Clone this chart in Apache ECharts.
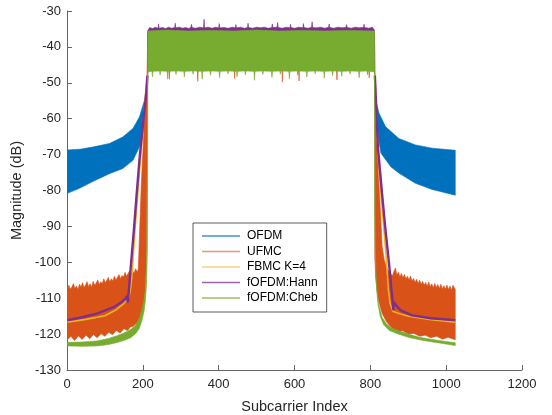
<!DOCTYPE html>
<html>
<head>
<meta charset="utf-8">
<script src="https://cdn.jsdelivr.net/npm/echarts@6/dist/echarts.min.js"></script>
<style>html,body{margin:0;padding:0;background:#fff}#c{width:552px;height:415px}</style>
</head>
<body>
<div id="c"></div>
<script>
// ---- data (x = subcarrier index, y = dB) ----
var seriesNames = ['OFDM', 'UFMC', 'FBMC K=4', 'fOFDM:Hann', 'fOFDM:Cheb'];
var xTicks = [0, 200, 400, 600, 800, 1000, 1200];
var yTicks = [-130, -120, -110, -100, -90, -80, -70, -60, -50, -40, -30];

// OFDM envelope (upper / lower) of the dense oscillation
var ofdmUpper = [[1,-68.7],[34,-68.5],[68,-67.9],[112,-66.9],[147,-65.1],[174,-62.7],[191,-59.5],[204,-55.0],[209,-52.2],[212,-48.5],[213,-36.0],
  [811,-36.0],[812,-48.5],[814,-54.8],[823,-58.5],[840,-62.2],[875,-65.5],[919,-67.3],[963,-68.2],[1024,-68.8]];
var ofdmLower = [[1,-80.8],[33,-79.4],[68,-77.5],[112,-75.3],[147,-73.9],[174,-71.6],[191,-67.9],[204,-62.3],[209,-56.5],[212,-50.0],[213,-46.5],
  [811,-46.5],[812,-52.0],[816,-59.0],[823,-66.5],[828,-69.6],[854,-73.4],[876,-75.2],[919,-78.0],[963,-79.7],[1024,-81.3]];

// UFMC envelope
var ufmcUpper = [[1,-107.8],[5,-106.4],[9,-107.5],[13,-106.9],[17,-105.9],[21,-107.3],[25,-106.6],[29,-107.6],[33,-106.1],[37,-106.9],
  [41,-105.7],[45,-107.0],[49,-106.3],[53,-105.4],[57,-106.8],[61,-106.0],[65,-106.9],[69,-105.3],[73,-106.4],[77,-105.8],[81,-104.9],
  [85,-106.2],[89,-105.4],[93,-106.0],[97,-104.6],[101,-105.7],[105,-105.0],[109,-104.2],[113,-105.5],[117,-104.6],[121,-105.2],
  [125,-103.9],[129,-104.9],[133,-104.2],[137,-103.4],[141,-104.6],[145,-103.7],[149,-104.1],[153,-102.8],[157,-103.9],[161,-103.1],
  [165,-102.4],[169,-103.5],[173,-102.6],[177,-103.0],[181,-101.8],[185,-102.7],[188,-101.9],
  [191,-93.0],[196,-78.0],[203,-63.0],[208,-53.0],[211,-48.5],[213,-36.2],
  [811,-36.2],[812,-48.5],[816,-64.0],[822,-77.0],[827,-86.5],[831,-95.5],[837,-99.5],[844,-102.0],[852,-102.8],[858,-103.8],
  [862,-102.6],[866,-101.6],[870,-103.5],[874,-102.8],[878,-104.0],[882,-103.1],[886,-104.3],[890,-103.4],[894,-104.6],[898,-103.9],
  [902,-104.9],[906,-103.8],[910,-105.2],[914,-104.5],[918,-105.6],[922,-104.7],[926,-105.9],[930,-105.0],[934,-106.1],[938,-105.3],
  [942,-106.4],[946,-105.6],[950,-106.7],[954,-105.5],[958,-106.8],[962,-106.0],[966,-107.1],[970,-105.9],[974,-107.0],[978,-106.2],
  [982,-107.3],[986,-106.1],[990,-107.4],[994,-106.5],[998,-107.5],[1002,-106.3],[1006,-107.6],[1010,-106.6],[1014,-107.7],[1018,-106.4],
  [1024,-107.5]];
var ufmcLower = [[1,-121.6],[10,-120.6],[20,-121.8],[30,-120.5],[40,-121.5],[50,-120.3],[60,-121.3],[70,-120.1],[79,-121.0],[90,-119.9],
  [100,-120.6],[110,-119.5],[120,-120.2],[130,-119.0],[140,-119.7],[150,-118.5],[160,-119.0],[167,-118.0],[175,-117.8],[185,-116.8],
  [192,-116.0],[197,-114.8],[202,-112.5],[206,-108.0],[208.5,-102.0],[210,-95.0],[211,-75.0],[212,-55.0],[213,-46.6],
  [269,-46.6],[270,-49.0],[271,-46.6],[344,-46.6],[345,-49.6],[346,-46.6],[441,-46.6],[442,-48.8],[443,-46.6],
  [567,-46.6],[568,-49.8],[569,-46.6],[611,-46.6],[612,-49.5],[613,-46.6],[711,-46.6],[712,-49.2],[713,-46.6],
  [796,-46.6],[797,-48.6],[798,-46.6],[811,-46.6],
  [811.5,-60.0],[812,-99.0],[814,-104.0],[817.6,-107.7],[822,-110.8],[831,-114.2],[842,-116.5],[853,-117.9],[862,-118.8],[871,-119.3],
  [885,-119.1],[900,-120.0],[915,-119.8],[930,-120.6],[945,-120.3],[959,-121.0],[975,-120.6],[990,-121.4],[1005,-120.9],[1024,-121.6]];

// FBMC K=4 line (left and right of the passband)
var fbmcLeft = [[1,-116.7],[50,-115.9],[100,-114.9],[130,-113.2],[150,-111.5],[160,-110.3],[164,-109.5],[168,-107.0],[172,-103.0],
  [176,-96.0],[180,-90.0],[189.5,-77.0],[200,-63.0],[207,-53.0],[212,-48.0]];
var fbmcRight = [[812,-48.0],[818,-65.0],[825,-77.0],[836,-91.0],[843,-100.0],[847,-107.0],[852,-111.5],[860,-113.7],[880,-114.4],
  [900,-115.0],[960,-116.0],[1024,-116.7]];

// fOFDM:Hann line and passband envelope
var hannLeft = [[1,-116.1],[40,-115.3],[79,-114.3],[123,-112.5],[145,-111.0],[154,-110.1],[158,-109.4],[160.5,-111.2],[162.5,-108.6],
  [166,-104.0],[170,-99.0],[176,-91.5],[183,-82.0],[191,-71.5],[200,-62.0],[209,-52.9],[212,-48.0]];
var hannRight = [[812,-48.0],[820,-68.0],[831,-81.0],[840,-91.0],[849,-100.0],[855,-107.0],[858.5,-110.5],[860.5,-113.3],[862.5,-111.0],
  [867,-111.9],[880,-113.4],[910,-114.8],[960,-115.6],[1024,-116.1]];
var hannBandUpper = [[213,-35.4],[218,-34.6],[226,-34.9],[233,-34.5],[240,-34.8],[241.5,-33.6],[243,-34.8],[252,-34.6],[260,-34.9],
  [268,-34.5],[276,-34.8],[284,-34.6],[285.5,-33.4],[287,-34.7],[296,-34.5],[305,-34.8],[313,-34.6],[321,-34.9],[327,-34.5],[328.5,-33.7],
  [330,-34.6],[339,-34.8],[350,-34.5],[360,-34.7],[361.5,-32.3],[363,-34.7],[372,-34.5],[383,-34.8],[392,-34.5],[400,-34.7],[401.5,-33.5],
  [403,-34.7],[414,-34.6],[425,-34.8],[436,-34.5],[444,-34.7],[445.5,-33.8],[447,-34.7],[458,-34.5],[468,-34.8],[476,-34.6],[477.5,-33.4],
  [479,-34.6],[490,-34.8],[500,-34.5],[510,-34.7],[520,-34.5],[531,-34.8],[540,-34.6],[541.5,-33.6],[543,-34.6],[554,-34.5],[555.5,-33.2],
  [557,-34.6],[568,-34.8],[578,-34.5],[588,-34.7],[589.5,-33.7],[591,-34.6],[600,-34.8],[612,-34.5],[622,-34.7],[623.5,-33.5],[625,-34.6],
  [636,-34.8],[645,-34.5],[646.5,-33.0],[648,-34.6],[658,-34.7],[668,-34.5],[680,-34.8],[690,-34.5],[691.5,-33.6],[693,-34.6],[704,-34.8],
  [714,-34.5],[726,-34.7],[736,-34.5],[737.5,-33.8],[739,-34.6],[750,-34.8],[760,-34.5],[772,-34.7],[782,-34.5],[783.5,-33.7],[785,-34.6],
  [796,-34.8],[805,-34.5],[811,-35.3]];
var hannBandLower = [[213,-46.0],[811,-46.0]];

// fOFDM:Cheb envelope
var chebUpper = [[1,-122.3],[40,-122.2],[79,-121.9],[110,-121.2],[130,-120.5],[150,-119.7],[168,-118.7],[180,-117.6],[190,-115.8],
  [197,-113.4],[203,-110.5],[207,-107.0],[209.5,-103.0],[211,-96.0],[212,-80.0],[212.5,-55.0],[213,-35.6],
  [260,-35.3],[320,-35.6],[380,-35.4],[440,-35.6],[500,-35.3],[560,-35.6],[620,-35.4],[680,-35.6],[740,-35.4],[811,-35.6],
  [811.5,-55.0],[812,-88.0],[813,-99.5],[815,-104.5],[818,-108.3],[822,-111.6],[831,-115.3],[842,-117.1],[853,-118.1],[871,-118.9],
  [900,-120.0],[930,-120.9],[959,-121.4],[990,-121.9],[1024,-122.4]];
var chebLower = [[1,-123.3],[40,-123.4],[79,-123.3],[110,-122.9],[130,-122.4],[150,-121.8],[168,-121.0],[180,-120.0],[190,-118.6],
  [197,-116.5],[203,-113.8],[207,-110.5],[210,-105.5],[211.5,-98.0],[212.5,-80.0],[213,-47.0],
  [224,-46.8],[225.5,-48.3],[227,-46.8],[244,-46.7],[245.5,-47.9],[247,-46.7],[264,-46.8],[265.5,-49.0],[267,-46.8],[286,-46.7],
  [287.5,-47.7],[289,-46.7],[308,-46.8],[309.5,-48.4],[311,-46.8],[331,-46.7],[332.5,-47.6],[334,-46.7],[355,-46.8],[356.5,-49.0],
  [358,-46.8],[377,-46.7],[378.5,-47.9],[380,-46.7],[401,-46.8],[402.5,-48.6],[404,-46.8],[423,-46.7],[424.5,-47.5],[426,-46.7],
  [447,-46.8],[448.5,-48.3],[450,-46.8],[469,-46.7],[470.5,-47.8],[472,-46.7],[493,-46.8],[494.5,-49.3],[496,-46.8],[515,-46.7],
  [516.5,-47.7],[518,-46.7],[539,-46.8],[540.5,-48.5],[542,-46.8],[561,-46.7],[562.5,-47.6],[564,-46.7],[585,-46.8],[586.5,-48.9],
  [588,-46.8],[607,-46.7],[608.5,-47.9],[610,-46.7],[631,-46.8],[632.5,-48.4],[634,-46.8],[653,-46.7],[654.5,-47.5],[656,-46.7],
  [677,-46.8],[678.5,-48.7],[680,-46.8],[699,-46.7],[700.5,-48.0],[702,-46.7],[723,-46.8],[724.5,-48.2],[726,-46.8],[745,-46.7],
  [746.5,-47.6],[748,-46.7],[769,-46.8],[770.5,-48.6],[772,-46.8],[791,-46.7],[792.5,-47.8],[794,-46.7],[811,-47.0],
  [812,-80.0],[813,-95.0],[814.5,-103.0],[817,-108.0],[820,-111.5],[826,-115.0],[835,-117.4],[850,-119.0],[871,-119.9],[900,-120.9],
  [930,-121.6],[959,-122.1],[990,-122.6],[1024,-123.2]];

// ---- styling ----
var colors = ['#0072BD', '#D95319', '#EDB120', '#7E2F8E', '#77AC30'];
var legendColors = ['rgba(0,114,189,0.75)', 'rgba(217,83,25,0.6)', 'rgba(237,177,32,0.6)', 'rgba(126,47,142,0.75)', 'rgba(119,172,48,0.75)'];
var FONT = 'Liberation Sans, Arial, Helvetica, sans-serif';

function band(name, color, upper, lower, z) {
  return {
    type: 'custom', name: name, z: z, silent: true, clip: true,
    data: [[upper[0][0], upper[0][1]]],
    renderItem: function (params, api) {
      var pts = [];
      for (var i = 0; i < upper.length; i++) pts.push(api.coord(upper[i]));
      for (var j = lower.length - 1; j >= 0; j--) pts.push(api.coord(lower[j]));
      return { type: 'polygon', shape: { points: pts }, style: { fill: color, stroke: color, lineWidth: 0.6 } };
    }
  };
}
function line(name, color, data, width, z) {
  return {
    type: 'line', name: name, z: z, data: data, showSymbol: false, symbol: 'none', silent: true,
    lineStyle: { color: color, width: width }, itemStyle: { color: color }
  };
}

var chart = echarts.init(document.getElementById('c'), null, { renderer: 'canvas' });
chart.setOption({
  animation: false,
  backgroundColor: '#fff',
  textStyle: { fontFamily: FONT },
  grid: { left: 67, right: 30, top: 11, bottom: 45, containLabel: false, outerBoundsMode: 'none' },
  xAxis: {
    type: 'value', min: xTicks[0], max: xTicks[xTicks.length - 1], interval: 200,
    name: 'Subcarrier Index', nameLocation: 'middle', nameGap: 29,
    nameTextStyle: { fontSize: 14.5, color: '#262626', fontFamily: FONT },
    axisLine: { show: true, onZero: false, lineStyle: { color: '#666', width: 1 } },
    axisTick: { show: true, inside: true, length: 5, lineStyle: { color: '#666' } },
    axisLabel: { color: '#262626', fontSize: 13, margin: 8, fontFamily: FONT, formatter: function (v) { return String(v); } },
    splitLine: { show: false }
  },
  yAxis: {
    type: 'value', min: yTicks[0], max: yTicks[yTicks.length - 1], interval: 10,
    name: 'Magnitude (dB)', nameLocation: 'middle', nameGap: 37,
    nameTextStyle: { fontSize: 14.5, color: '#262626', fontFamily: FONT },
    axisLine: { show: true, onZero: false, lineStyle: { color: '#666', width: 1 } },
    axisTick: { show: true, inside: true, length: 5, lineStyle: { color: '#666' } },
    axisLabel: { color: '#262626', fontSize: 13, margin: 6, fontFamily: FONT, formatter: function (v) { return String(v); } },
    splitLine: { show: false }
  },
  legend: {
    orient: 'vertical', left: 193, top: 223, z: 20,
    padding: [6, 9, 7, 9], itemGap: 1.5, itemWidth: 38, itemHeight: 1.3,
    backgroundColor: '#fff', borderColor: '#333', borderWidth: 0.8,
    textStyle: { fontSize: 12, color: '#000', lineHeight: 14, fontFamily: FONT, padding: [0, 0, 0, 2] },
    selectedMode: false,
    data: seriesNames.map(function (n, i) {
      return { name: n, icon: 'rect', itemStyle: { color: legendColors[i] } };
    })
  },
  series: [
    band(seriesNames[0], colors[0], ofdmUpper, ofdmLower, 2),
    band(seriesNames[1], colors[1], ufmcUpper, ufmcLower, 3),
    line(seriesNames[2], colors[2], fbmcLeft, 1.6, 4),
    line(seriesNames[2], colors[2], fbmcRight, 1.6, 4),
    band(seriesNames[3], colors[3], hannBandUpper, hannBandLower, 5),
    line(seriesNames[3], colors[3], hannLeft, 2.4, 6),
    line(seriesNames[3], colors[3], hannRight, 2.4, 6),
    band(seriesNames[4], colors[4], chebUpper, chebLower, 7)
  ]
});
</script>
</body>
</html>
